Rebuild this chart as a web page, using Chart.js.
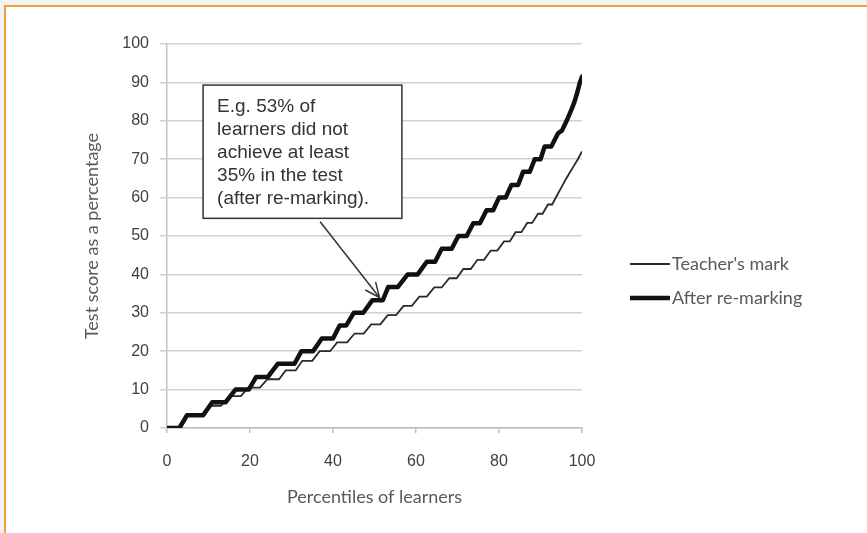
<!DOCTYPE html>
<html><head><meta charset="utf-8">
<script src="https://cdn.jsdelivr.net/npm/chart.js@4/dist/chart.umd.min.js"></script>
<style>
html,body{margin:0;padding:0;background:#f2f2f2;width:867px;height:533px;overflow:hidden}
#frame{position:absolute;left:4px;top:5px;width:863px;height:528px;background:#fff;border-left:2px solid #f5a033;border-top:2px solid #f5a033;}
#wrap{position:absolute;left:0;top:0;width:867px;height:533px}
</style></head><body>
<div id="frame"></div>
<div id="wrap"><canvas id="c" width="867" height="533"></canvas></div>
<script>
const xTicks = [0, 20, 40, 60, 80, 100];
const yTicks = [0, 10, 20, 30, 40, 50, 60, 70, 80, 90, 100];
const seriesLabels = ["Teacher's mark", "After re-marking"];
const xTitle = "Percentiles of learners";
const yTitle = "Test score as a percentage";
const noteLines = ["E.g. 53% of", "learners did not", "achieve at least", "35% in the test", "(after re-marking)."];

const teacherX = [0,3,4.8,9,10.6,13,15,17.8,19.6,22.4,24.2,27,28.6,31,32.6,35,36.8,39.3,41,43.4,45.2,47.4,49.2,51.4,53.2,55.2,57,59,60.8,62.6,64.4,66.2,68,69.8,71.4,73.2,74.8,76.4,78,79.6,81.2,82.6,84,85.4,86.8,88,89.4,90.5,91.8,92.8,94,95,96,97,98,99,100];
const teacherY = [0,0,3.3,3.3,5.8,5.8,8.3,8.3,10.5,10.5,12.7,12.7,15,15,17.5,17.5,20,20,22.3,22.3,24.6,24.6,27,27,29.4,29.4,31.8,31.8,34.2,34.2,36.6,36.6,39,39,41.4,41.4,43.8,43.8,46.2,46.2,48.6,48.6,51,51,53.4,53.4,55.8,55.8,58.2,58.2,60.6,62.6,64.6,66.4,68.2,70,72];

const remarkX = [0,3,4.8,8.7,10.9,14.1,16.5,19.7,21.5,24.3,26.7,30.7,32.4,35.2,37.3,40,41.6,43.2,45,47.3,49.5,52,53.3,55.6,58,60.4,62.6,64.6,66.2,68.6,70.2,72.2,73.8,75.4,77,78.6,80,81.6,83,84.6,85.8,87.4,88.6,90,91,92.6,94.2,95.2,96.3,97.3,98.2,98.9,99.5,100];
const remarkY = [0,0,3.3,3.3,6.7,6.7,10,10,13.3,13.3,16.7,16.7,20,20,23.3,23.3,26.7,26.7,30,30,33.3,33.3,36.7,36.7,40,40,43.3,43.3,46.7,46.7,50,50,53.3,53.3,56.7,56.7,60,60,63.3,63.3,66.7,66.7,70,70,73.3,73.3,76.7,77.5,80,82.5,85,87.5,90,91.5];

// annotation anchors in data units
const noteBox = {x0: 8.7, y0: 89.3, x1: 56.6, y1: 54.6};
const arrowFrom = {x: 36.9, y: 53.7};
const arrowTo = {x: 51.2, y: 34.0};

const pts = (xs, ys) => xs.map((x, i) => ({x: x, y: ys[i]}));

const extras = {
  id: 'extras',
  afterDatasetsDraw(chart) {
    const ctx = chart.ctx, xs = chart.scales.x, ys = chart.scales.y;
    ctx.save();
    // legend
    const legendY = [264, 298];
    chart.data.datasets.forEach((ds, i) => {
      ctx.strokeStyle = ds.borderColor;
      ctx.lineWidth = ds.borderWidth;
      ctx.lineCap = 'butt';
      ctx.beginPath();
      ctx.moveTo(630, legendY[i]);
      ctx.lineTo(670, legendY[i]);
      ctx.stroke();
      ctx.fillStyle = '#595959';
      ctx.font = '18px Lato';
      ctx.textBaseline = 'middle';
      ctx.textAlign = 'left';
      ctx.fillText(ds.label, 672, legendY[i]);
    });
    // note box
    const bx0 = xs.getPixelForValue(noteBox.x0), by0 = ys.getPixelForValue(noteBox.y0);
    const bx1 = xs.getPixelForValue(noteBox.x1), by1 = ys.getPixelForValue(noteBox.y1);
    ctx.fillStyle = '#ffffff';
    ctx.fillRect(bx0, by0, bx1 - bx0, by1 - by0);
    ctx.strokeStyle = '#333333';
    ctx.lineWidth = 1.5;
    ctx.strokeRect(bx0, by0, bx1 - bx0, by1 - by0);
    ctx.fillStyle = '#333333';
    ctx.font = '19px "Liberation Sans"';
    ctx.textBaseline = 'alphabetic';
    noteLines.forEach((t, i) => ctx.fillText(t, bx0 + 14, by0 + 27 + i * 23));
    // arrow
    const ax0 = xs.getPixelForValue(arrowFrom.x), ay0 = ys.getPixelForValue(arrowFrom.y);
    const ax1 = xs.getPixelForValue(arrowTo.x), ay1 = ys.getPixelForValue(arrowTo.y);
    ctx.beginPath();
    ctx.moveTo(ax0, ay0); ctx.lineTo(ax1, ay1); ctx.stroke();
    const ang = Math.atan2(ay1 - ay0, ax1 - ax0), L = 16, spread = 0.42;
    ctx.beginPath();
    ctx.moveTo(ax1 - L * Math.cos(ang - spread), ay1 - L * Math.sin(ang - spread));
    ctx.lineTo(ax1, ay1);
    ctx.lineTo(ax1 - L * Math.cos(ang + spread), ay1 - L * Math.sin(ang + spread));
    ctx.stroke();
    ctx.restore();
  }
};

new Chart(document.getElementById('c'), {
  type: 'line',
  data: {
    datasets: [
      {label: seriesLabels[0], data: pts(teacherX, teacherY), borderColor: '#2a2a2a', borderWidth: 1.8, pointRadius: 0, tension: 0, order: 2},
      {label: seriesLabels[1], data: pts(remarkX, remarkY), borderColor: '#111111', borderWidth: 4.5, pointRadius: 0, tension: 0, borderJoinStyle: 'round', borderCapStyle: 'round', order: 1}
    ]
  },
  options: {
    responsive: false,
    animation: false,
    devicePixelRatio: 1,
    layout: {padding: {top: 44, right: 285, bottom: 0, left: 0}},
    plugins: {legend: {display: false}, tooltip: {enabled: false}},
    scales: {
      x: {
        type: 'linear', min: 0, max: 100,
        afterBuildTicks: s => { s.ticks = xTicks.map(v => ({value: v})); },
        afterFit: s => { s.height = 105; },
        grid: {drawOnChartArea: false, drawTicks: true, tickLength: 5, color: '#bdbdbd', lineWidth: 1.5},
        border: {display: true, color: '#bdbdbd', width: 1.5},
        ticks: {font: {family: 'Liberation Sans', size: 16}, color: '#404040', padding: 19, maxRotation: 0},
        title: {display: true, text: xTitle, font: {family: 'Lato', size: 18}, color: '#595959', padding: {top: 0, bottom: 25}}
      },
      y: {
        min: 0, max: 100,
        afterBuildTicks: s => { s.ticks = yTicks.map(v => ({value: v})); },
        afterFit: s => { s.width = 167; },
        grid: {color: '#d0d0d0', lineWidth: 1.5, tickLength: 7},
        border: {display: true, color: '#c4c4c4', width: 1.5},
        ticks: {font: {family: 'Liberation Sans', size: 16}, color: '#404040', padding: 11},
        title: {display: true, text: yTitle, font: {family: 'Lato', size: 18}, color: '#595959', padding: {top: 81, bottom: 0}}
      }
    }
  },
  plugins: [extras]
});
</script>
</body></html>
